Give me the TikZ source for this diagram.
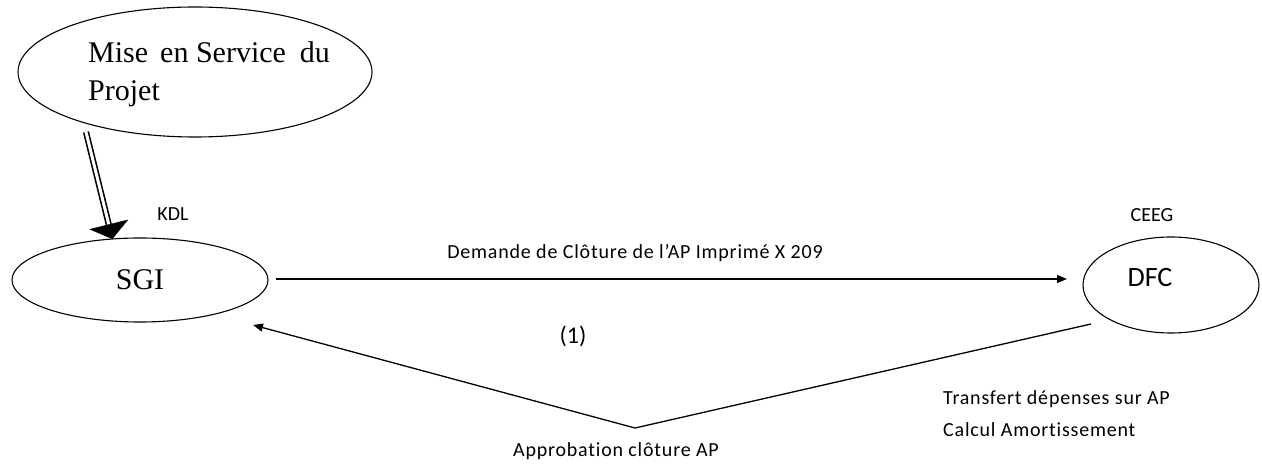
\documentclass[tikz,border=0pt]{standalone}
\usepackage{fontspec}
\setmainfont{Liberation Serif}
\newfontfamily\sansplain[RawFeature={-liga}]{Carlito}
\newfontfamily\sansspaced[LetterSpace=4,RawFeature={-liga}]{Carlito}
\usetikzlibrary{shapes.geometric,arrows.meta,calc}
\begin{document}
\begin{tikzpicture}[x=1pt,y=1pt,
  bubble/.style={draw, ellipse, line width=1.1pt, inner sep=0pt, outer sep=0pt},
  serifbig/.style={font=\fontsize{30}{38}\selectfont, inner sep=0pt},
  lbl/.style={font=\sansspaced\fontsize{20}{30}\selectfont, inner sep=0pt, anchor=base},
  tag/.style={font=\sansplain\fontsize{20}{24}\selectfont, inner sep=0pt, anchor=base},
  flow/.style={line width=1.3pt, -{Triangle[length=10pt,width=8pt]}}]
\useasboundingbox (0,0) rectangle (1262,466);

% actors
\node[bubble, minimum width=354, minimum height=130] (mise) at (195,394) {};
\node[serifbig, anchor=base west] (miseA) at (88,403) {Mise\hspace{4.5pt} en Service\hspace{6.5pt} du};
\node[serifbig, anchor=base west] (miseB) at (88,365) {Projet};
\node[bubble, minimum width=256, minimum height=84, serifbig] (sgi) at (140,186) {SGI};
\node[bubble, minimum width=176, minimum height=96] (dfc) at (1171,181) {};
\node[font=\sansplain\fontsize{28}{32}\selectfont, inner sep=0pt, anchor=base] (dfctxt) at (1150,179) {DFC};

% organisation tags
\node[tag] (kdl) at (173,245) {KDL};
\node[tag] (ceeg) at (1152,244) {CEEG};

% start-up feeding SGI (double shaft, wide head)
\coordinate (dstart) at ($(mise.center)+(-109,-60)$);
\coordinate (dend) at (sgi.124);
\draw[line width=1.6pt, double, double distance=3pt, shorten >=10pt] (dstart) -- (dend);
\draw[line width=0.4pt, -{Triangle[length=15pt,width=40pt]}] ($(dend)!3pt!(dstart)$) -- (dend);

% request from SGI to DFC
\draw[flow, shorten <=8pt, shorten >=16pt] (sgi.east |- 0,187) -- (dfc.west |- 0,187);
\node[lbl] (req) at (635,207) {Demande de Clôture de l’AP Imprimé X 209};

% return path DFC -> SGI
\coordinate (rs) at ($(dfc.center)+(-80,-39)$);
\coordinate (apex) at (635,38);
\coordinate (rt) at ($(sgi.center)+(113,-45)$);
\draw[flow, line join=miter] (rs) -- (apex) -- (rt);
\node[tag, font=\sansplain\fontsize{24}{28}\selectfont] (one) at (573,122) {(1)};
\node[lbl] (appr) at (616,9) {Approbation clôture AP};
\node[lbl, anchor=base west] (tr1) at (943,61) {Transfert dépenses sur AP};
\node[lbl, anchor=base west] (tr2) at (943,29) {Calcul Amortissement};
\end{tikzpicture}
\end{document}
